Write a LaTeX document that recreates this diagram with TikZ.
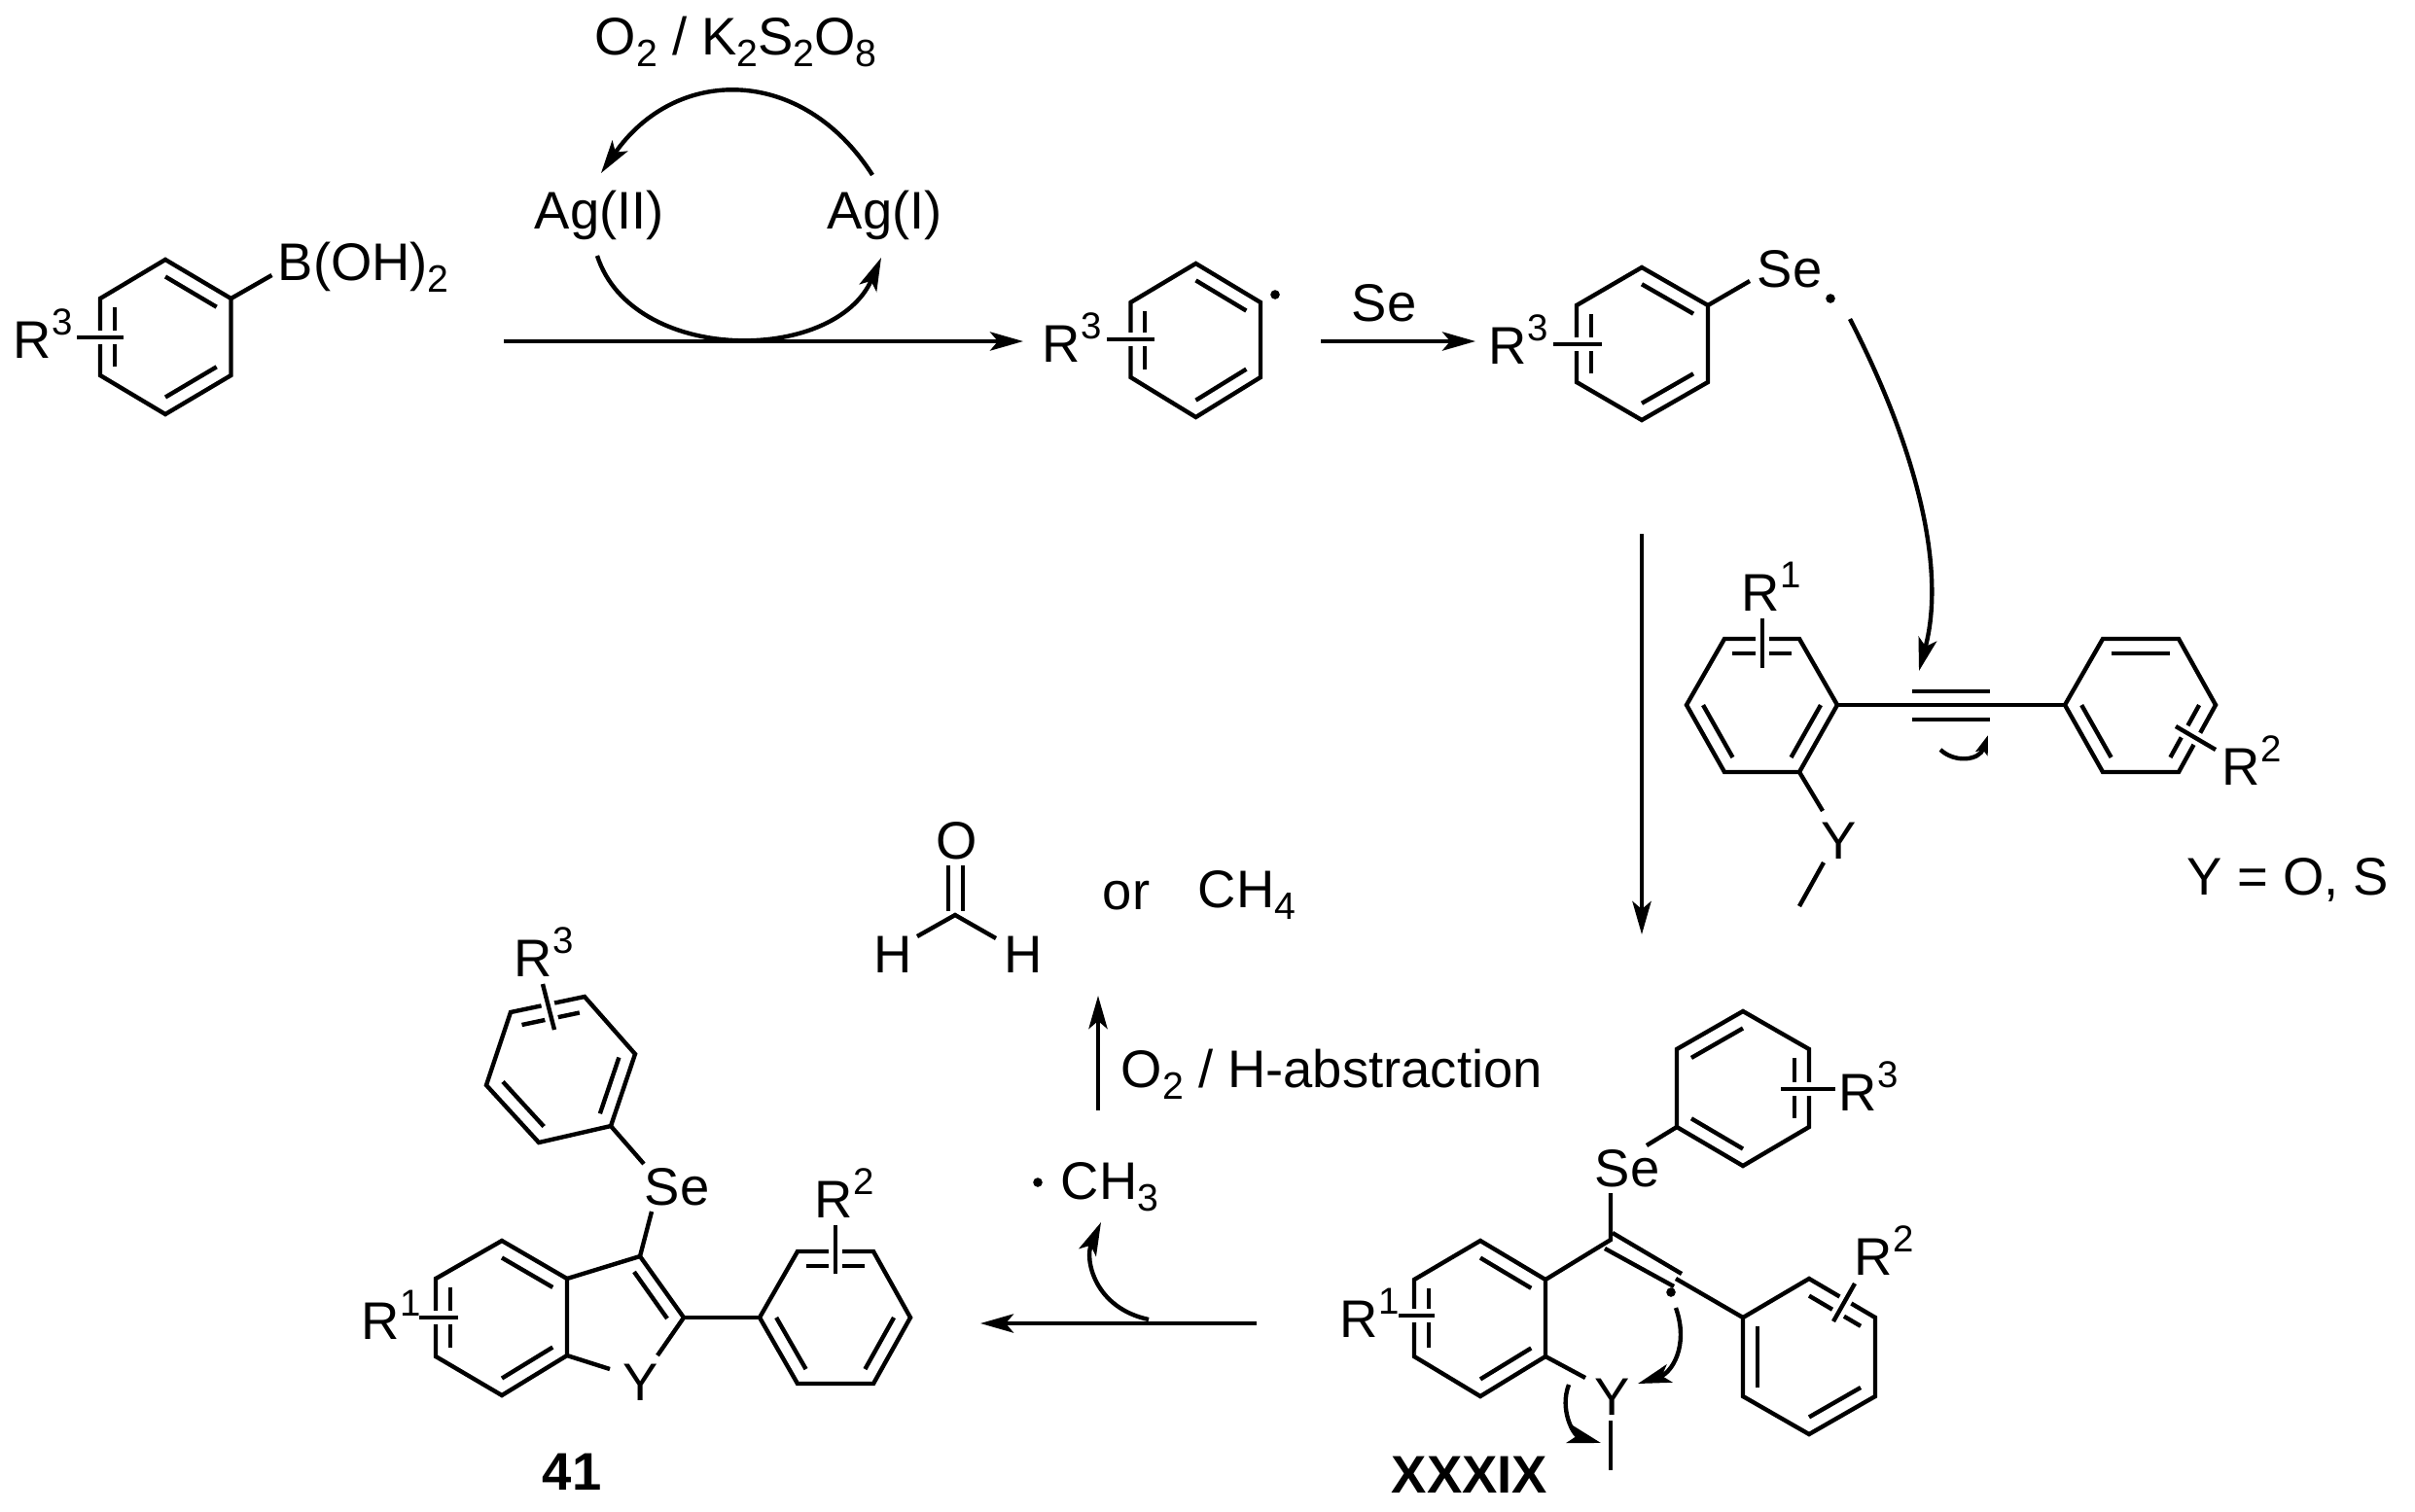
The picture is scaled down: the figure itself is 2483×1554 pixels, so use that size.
\documentclass[tikz,border=0pt]{standalone}
\usepackage{fontspec}
\setmainfont{Liberation Sans}
\usetikzlibrary{arrows.meta,calc}

\newcommand{\upnum}[1]{\raisebox{5.8pt}{\fontsize{9.6}{9.6}\selectfont #1}}
\newcommand{\dnnum}[1]{\raisebox{-3pt}{\fontsize{9.8}{9.8}\selectfont #1}}

% name, six corners, pairs of corners with an inner line
\newcommand{\hexring}[8]{
	\coordinate (#1-1) at (#2);
	\coordinate (#1-2) at (#3);
	\coordinate (#1-3) at (#4);
	\coordinate (#1-4) at (#5);
	\coordinate (#1-5) at (#6);
	\coordinate (#1-6) at (#7);
	\coordinate (#1-c) at ($(#1-1)!.5!(#1-4)$);
	\draw[bond] (#1-1) -- (#1-2) -- (#1-3) -- (#1-4) -- (#1-5) -- (#1-6) -- cycle;
	\foreach \p/\q in {#8}
		\draw[bond] ($(#1-\p)!.22!(#1-c)$) -- ($(#1-\q)!.22!(#1-c)$);
}
\newcommand{\subbond}[3]{
	\coordinate (#1-a) at (#2);
	\coordinate (#1-b) at (#3);
	\draw[bond,preaction={draw=white,line width=3.4pt}] (#1-a) -- (#1-b);
}

\tikzset{
	bond/.style={line width=1.1pt},
	rxn/.style={line width=1.1pt,-{Stealth[length=8.5pt,width=4.8pt,inset=2pt]}},
	hook/.style={line width=1.1pt,-{Stealth[length=5pt,width=3.2pt,inset=1pt]}},
	txt/.style={inner sep=0pt,anchor=base west,font=\fontsize{13.6}{15}\selectfont},
	raddot/.style={circle,fill=black,inner sep=0pt,minimum size=2.4pt},
}

\begin{document}
\begin{tikzpicture}[x=0.25pt,y=-0.25pt]
	\useasboundingbox (0,0) rectangle (2483,1554);

	\hexring{r1}{170,267}{237.5,307}{237.5,386}{170,426}{103,386}{103,307}{1/2,3/4,5/6}
	\subbond{s1}{79,347}{127,347}
	\hexring{r2}{1229.5,271}{1296,311}{1296,388}{1229.5,429}{1162.5,388}{1162.5,311}{1/2,3/4,5/6}
	\subbond{s2}{1138,349}{1187,349}
	\hexring{r3}{1688,275}{1756,314}{1756,393}{1688,432}{1621,393}{1621,314}{1/2,3/4,5/6}
	\subbond{s3}{1597,354}{1647,354}
	\hexring{r4}{1773,657}{1850,657}{1889,725}{1850,794}{1773,794}{1734,725}{1/2,3/4,5/6}
	\subbond{s4}{1812,636}{1812,687}
	\hexring{r5}{2162,657}{2240,657}{2278,725}{2240,794}{2162,794}{2123,725}{1/2,3/4,5/6}
	\subbond{s5}{2237,747}{2278,771}
	\hexring{r6}{601,1025}{653,1084}{628,1158}{554,1175}{500,1116}{525,1041}{6/1,2/3,4/5}
	\subbond{s6}{558,1012}{570,1059}
	\hexring{r7}{516,1276}{583,1315}{583,1394}{516,1435}{448,1395}{448,1315}{1/2,3/4,5/6}
	\subbond{s7}{431,1355}{471,1355}
	\hexring{r8}{820,1287}{898,1287}{936,1355}{898,1423}{820,1423}{781,1355}{1/2,3/4,5/6}
	\subbond{s8}{859,1260}{859,1310}
	\hexring{r9}{1792,1040}{1860,1079}{1860,1159}{1792,1199}{1724,1159}{1724,1079}{6/1,2/3,4/5}
	\subbond{s9}{1831,1120}{1887,1120}
	\hexring{r10}{1522,1276}{1589,1316}{1589,1395}{1522,1436}{1454,1395}{1454,1316}{1/2,3/4,5/6}
	\subbond{s10}{1438,1353}{1475,1353}
	\hexring{r11}{1860,1315}{1928,1355}{1928,1436}{1860,1475}{1792,1436}{1792,1355}{1/2,3/4,5/6}
	\subbond{s11}{1907,1320}{1885,1359}

	\begin{scope}[every node/.style={txt}]
		\node (oxid) at (611,56) {O\dnnum{2} / K\dnnum{2}S\dnnum{2}O\dnnum{8}};
		\node (agii) at (549,235) {Ag(II)};
		\node (agi) at (850,235) {Ag(I)};
		\node (boh) at (285,288) {B(OH)\dnnum{2}};
		\node (rA) at (13,368) {R\upnum{3}};
		\node (rB) at (1071,372) {R\upnum{3}};
		\node (seA) at (1389,330) {Se};
		\node (rC) at (1530,374) {R\upnum{3}};
		\node (seB) at (1806,295) {Se};
		\node (rD) at (1790,628) {R\upnum{1}};
		\node (rE) at (2284,807) {R\upnum{2}};
		\node (yA) at (1872,883) {Y};
		\node (yeq) at (2248,920) {Y = O, S};
		\node (oA) at (962,883) {O};
		\node (hA) at (898,1000) {H};
		\node (hB) at (1032,1000) {H};
		\node (orr) at (1133,935) {or};
		\node (ch4) at (1231,933) {CH\dnnum{4}};
		\node (oabs) at (1152,1118) {O\dnnum{2} / H-abstraction};
		\node (ch3) at (1090,1233) {CH\dnnum{3}};
		\node (rF) at (528,1004) {R\upnum{3}};
		\node (seC) at (662,1239) {Se};
		\node (rG) at (837,1252) {R\upnum{2}};
		\node (rH) at (371,1377) {R\upnum{1}};
		\node (yB) at (640,1440) {Y};
		\node[font=\fontsize{13.6}{15}\selectfont\bfseries] (nA) at (557,1532) {41};
		\node (rI) at (1890,1142) {R\upnum{3}};
		\node (seD) at (1639,1220) {Se};
		\node (rJ) at (1906,1311) {R\upnum{2}};
		\node (rK) at (1377,1375) {R\upnum{1}};
		\node (yC) at (1639,1455) {Y};
		\node[font=\fontsize{13.6}{15}\selectfont\bfseries] (nB) at (1430,1535) {XXXIX};
	\end{scope}

	\node[raddot] (dA) at (1311,303) {};
	\node[raddot] (dB) at (1882,307) {};
	\node[raddot] (dC) at (1067,1216) {};
	\node[raddot] (dD) at (1718,1329) {};

	% free ends of the bonds
	\coordinate (bA) at (279.5,283);
	\coordinate (bB) at (1799,289);
	\coordinate (bC) at (1874,834);
	\coordinate (bD) at (1875,887);
	\coordinate (bE) at (1850,932);
	\draw[bond] (r1-2) -- (bA);
	\draw[bond] (r3-2) -- (bB);
	\draw[bond] (r4-4) -- (bC);
	\draw[bond] (bD) -- (bE);

	% tolane
	\coordinate (tA) at (1966,711);
	\coordinate (tB) at (2046,711);
	\coordinate (tC) at (1966,740);
	\coordinate (tD) at (2046,740);
	\draw[bond] (r4-3) -- (r5-6);
	\draw[bond] (tA) -- (tB);
	\draw[bond] (tC) -- (tD);

	% formaldehyde
	\coordinate (cA) at (982,941);
	\coordinate (cB) at (975,890);
	\coordinate (cC) at (975,937);
	\coordinate (cD) at (990,890);
	\coordinate (cE) at (990,937);
	\coordinate (cF) at (943,963);
	\coordinate (cG) at (1024,965);
	\draw[bond] (cB) -- (cC);
	\draw[bond] (cD) -- (cE);
	\draw[bond] (cF) -- (cA) -- (cG);

	% product 41
	\coordinate (pA) at (662,1197);
	\coordinate (pB) at (670,1246);
	\coordinate (pC) at (658,1292);
	\coordinate (pD) at (703,1355);
	\coordinate (pE) at (676,1394);
	\coordinate (pF) at (627,1408);
	\coordinate (pG) at (652,1308);
	\coordinate (pH) at (686,1356);
	\draw[bond] (r6-3) -- (pA);
	\draw[bond] (pB) -- (pC);
	\draw[bond] (r7-2) -- (pC) -- (pD) -- (pE);
	\draw[bond] (r7-3) -- (pF);
	\draw[bond] (pG) -- (pH);
	\draw[bond] (pD) -- (r8-6);

	% intermediate XXXIX
	\coordinate (qA) at (1693,1178);
	\coordinate (qB) at (1656,1227);
	\coordinate (qC) at (1656,1275);
	\coordinate (qD) at (1658,1268);
	\coordinate (qE) at (1729,1310);
	\coordinate (qF) at (1650,1284);
	\coordinate (qG) at (1721,1323);
	\coordinate (qH) at (1723,1315);
	\coordinate (qI) at (1630,1417);
	\coordinate (qJ) at (1656,1461);
	\coordinate (qK) at (1656,1512);
	\draw[bond] (r9-5) -- (qA);
	\draw[bond] (qB) -- (qC) -- (r10-2);
	\draw[bond] (qD) -- (qE);
	\draw[bond] (qF) -- (qG);
	\draw[bond] (qH) -- (r11-6);
	\draw[bond] (r10-3) -- (qI);
	\draw[bond] (qJ) -- (qK);

	% reaction arrows
	\coordinate (aA) at (518,351);
	\coordinate (aB) at (1052,351);
	\coordinate (aC) at (1358,351);
	\coordinate (aD) at (1517,351);
	\coordinate (aE) at (1688,549);
	\coordinate (aF) at (1688,961);
	\coordinate (aG) at (1292,1361);
	\coordinate (aH) at (1008,1361);
	\coordinate (aI) at (1129,1142);
	\coordinate (aJ) at (1129,1024);
	\draw[rxn] (aA) -- (aB);
	\draw[rxn] (aC) -- (aD);
	\draw[rxn] (aE) -- (aF);
	\draw[rxn] (aG) -- (aH);
	\draw[rxn] (aI) -- (aJ);

	% curved arrows
	\coordinate (uA) at (897,180);
	\coordinate (uB) at (618,178);
	\coordinate (uC) at (614,263);
	\coordinate (uD) at (906,265);
	\coordinate (uE) at (1902,328);
	\coordinate (uF) at (1973,690);
	\coordinate (uG) at (1995,771);
	\coordinate (uH) at (2044,756);
	\coordinate (uI) at (1181,1357);
	\coordinate (uJ) at (1132,1257);
	\coordinate (uK) at (1723,1345);
	\coordinate (uL) at (1684,1423);
	\coordinate (uM) at (1613,1424);
	\coordinate (uN) at (1646,1484);
	\draw[rxn] (uA) .. controls (825,67) and (695,67) .. (uB);
	\draw[rxn] (uC) .. controls (650,375) and (858,375) .. (uD);
	\draw[rxn] (uE) .. controls (1975,470) and (2000,590) .. (uF);
	\draw[hook] (uG) .. controls (2010,785) and (2035,782) .. (uH);
	\draw[rxn] (uI) .. controls (1125,1345) and (1115,1295) .. (uJ);
	\draw[rxn] (uK) .. controls (1737,1385) and (1718,1412) .. (uL);
	\draw[rxn] (uM) .. controls (1603,1450) and (1618,1476) .. (uN);
\end{tikzpicture}
\end{document}
